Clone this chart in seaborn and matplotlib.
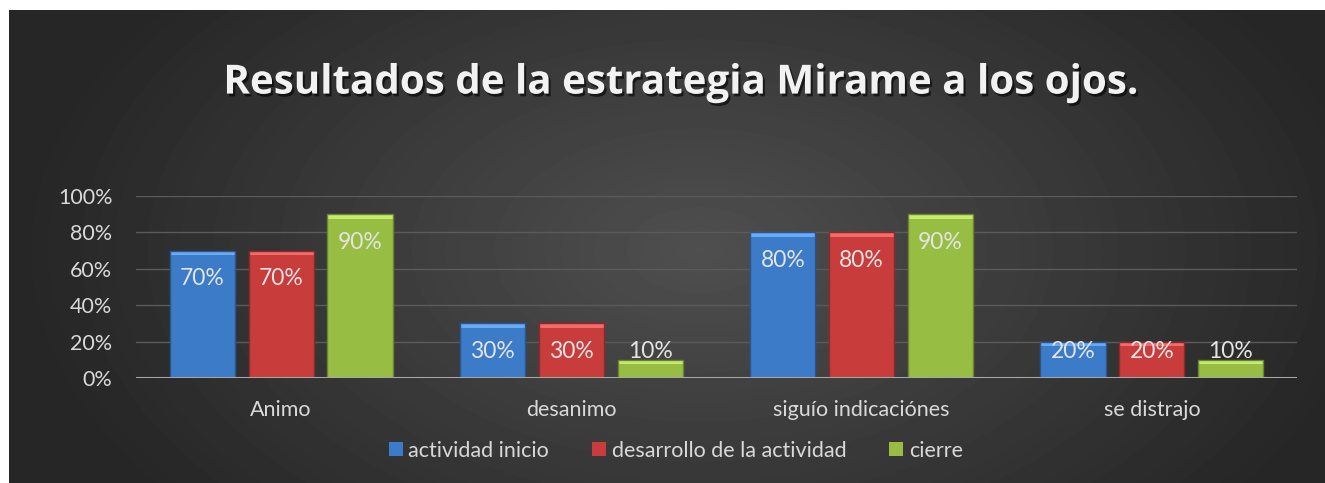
import numpy as np
import pandas as pd
import matplotlib.pyplot as plt
import matplotlib.patheffects as pe
from matplotlib.patches import Rectangle
from matplotlib.ticker import PercentFormatter
import seaborn as sns

categorias = ['Animo', 'desanimo', 'siguío indicaciónes', 'se distrajo']
series = ['actividad inicio', 'desarrollo de la actividad', 'cierre']
actividad_inicio = [0.70, 0.30, 0.80, 0.20]
desarrollo_actividad = [0.70, 0.30, 0.80, 0.20]
cierre = [0.90, 0.10, 0.90, 0.10]
colores = ['#3b7bc8', '#c83c3c', '#98bd43']

df = pd.DataFrame({
    'categoria': categorias * 3,
    'serie': np.repeat(series, len(categorias)),
    'valor': actividad_inicio + desarrollo_actividad + cierre,
})

sns.set_theme(style='dark')
plt.rcParams['font.family'] = ['Lato', 'DejaVu Sans']

W, H = 1325, 483
fig = plt.figure(figsize=(W / 100, H / 100), dpi=100)
fig.patch.set_facecolor('white')

# dark radial background
bg = fig.add_axes([9 / W, 0, (W - 9) / W, (H - 10) / H])
gy, gx = np.mgrid[0:473, 0:1316]
r = np.sqrt(((gx - 690) / 720) ** 2 + ((gy - 240) / 430) ** 2)
shade = np.clip(0.31 - 0.17 * r, 0.15, 0.31)
bg.imshow(shade, cmap='gray', vmin=0, vmax=1, aspect='auto', interpolation='bilinear')
bg.axis('off')

ax = fig.add_axes([136 / W, 105 / H, 1161 / W, 182 / H])
ax.set_facecolor('none')
sns.barplot(data=df, x='categoria', y='valor', hue='serie', palette=colores,
            width=0.815, gap=0.175, saturation=1, ax=ax, edgecolor='none', zorder=3)

ax.set_ylim(0, 1)
ax.set_yticks(np.arange(0, 1.01, 0.2))
ax.yaxis.set_major_formatter(PercentFormatter(1.0, decimals=0))
ax.grid(axis='y', color='#5b5b5b', lw=1, zorder=0)
ax.grid(axis='x', visible=False)
ax.axhline(0, color='#a8a8a8', lw=2.2, zorder=4)
for s in ax.spines.values():
    s.set_visible(False)
ax.set_xlabel('')
ax.set_ylabel('')
ax.tick_params(axis='y', colors='#d9d9d9', labelsize=15.5, pad=17, length=0)
ax.tick_params(axis='x', colors='#d9d9d9', labelsize=15.5, pad=16, length=0)

# bevel highlight + labels
for cont in ax.containers:
    for bar in cont:
        x0, w, h = bar.get_x(), bar.get_width(), bar.get_height()
        base = bar.get_facecolor()
        light = tuple(min(1, c + 0.18) for c in base[:3])
        dark = tuple(c * 0.7 for c in base[:3])
        ax.add_patch(Rectangle((x0, h - 0.025), w, 0.025, color=light, zorder=3.5, lw=0))
        ax.add_patch(Rectangle((x0, 0), w, h, fill=False, edgecolor=dark, lw=1, zorder=3.6))
        y = max(h - 0.154, 0.143)
        ax.text(x0 + w / 2, y, f'{h:.0%}', ha='center', va='center',
                color='#e4e4e4', fontsize=16.5, zorder=5)

sns.move_legend(ax, 'center', bbox_to_anchor=(0.465, -0.4), ncol=3, frameon=False,
                title=None, fontsize=15.5, handlelength=0.65, handleheight=0.65,
                handletextpad=0.25, columnspacing=2.0, labelcolor='#d9d9d9')

fig.text(0.513, 0.828, 'Resultados de la estrategia Mirame a los ojos.',
         ha='center', va='center', color='#f2f2f2', fontsize=29, fontweight='bold',
         family=['Open Sans', 'DejaVu Sans'],
         path_effects=[pe.withSimplePatchShadow(offset=(1.5, -2), shadow_rgbFace='black', alpha=0.6)])

fig.savefig('out.png', dpi=100)
